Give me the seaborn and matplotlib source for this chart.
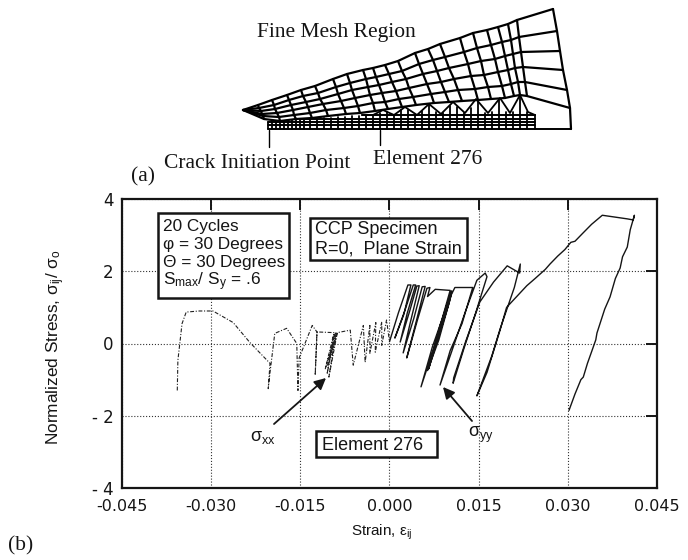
import pandas as pd
import matplotlib
matplotlib.use("Agg")
import matplotlib.pyplot as plt
import seaborn as sns

# Stress-strain curves
sxx_strain = [-.0357, -.0356, -.0349, -.0342, -.0320, -.0297, -.0263, -.0235, -.0201, -.0204, -.0201, -.0193, -.0173,
              -.0156, -.0154, -.0152, -.0130, -.0122, -.0125, -.0122, -.0092, -.0105, -.0094, -.0108, -.0090, -.0102,
              -.0088, -.0104, -.0088, -.0066, -.0061, -.0044, -.0041, -.0033, -.0033, -.0023, -.0024, -.0013, -.0013,
              -.0005, .0000]
sxx_stress = [-1.30, -.47, .55, .87, .90, .90, .58, .03, -.55, -1.25, -.80, .28, .42,
              .00, -1.30, -.40, .50, .32, -.88, .32, .30, -.85, .25, -.70, .32, -.93,
              .28, -.60, .30, .37, -.60, .50, -.52, .50, -.27, .58, -.24, .60, -.05,
              .65, .05]

syy_strain = [.0000, .0015, .0031, .0036, .0024, .0009, .0026, .0040, .0044, .0030, .0018, .0034, .0046, .0050, .0036,
              .0023, .0041, .0055, .0060, .0044, .0029, .0047, .0063, .0068, .0064, .0077, .0102, .0088, .0072, .0053,
              .0073, .0098, .0104, .0085, .0066, .0078, .0100, .0105, .0086, .0064, .0083, .0104, .0110, .0140, .0122,
              .0102, .0085, .0104, .0128, .0147, .0161, .0164, .0145, .0125, .0107, .0108, .0128, .0152, .0175, .0198,
              .0219, .0220, .0210, .0186, .0172, .0147, .0164, .0186, .0197, .0231, .0245, .0262, .0270, .0283, .0295,
              .0305, .0312, .0325, .0340, .0358, .0400, .0410, .0412, .0405, .0400, .0392, .0388, .0380, .0371, .0362,
              .0349, .0347, .0341, .0333, .0326, .0322, .0312, .0302]
syy_stress = [.05, .85, 1.62, 1.62, .80, .15, .92, 1.62, 1.62, .85, .04, .90, 1.59, 1.60, .65,
              -.26, .70, 1.57, 1.58, .55, -.40, .65, 1.53, 1.55, 1.30, 1.50, 1.47, .65, -.10, -1.20,
              -.20, 1.05, 1.45, .50, -.70, -.05, 1.10, 1.45, .45, -.75, .10, 1.35, 1.55, 1.55, .55,
              -.20, -1.15, -.25, .90, 1.75, 1.95, 1.85, .85, -.15, -1.10, -.95, .05, 1.15, 1.70, 2.15,
              1.95, 2.20, 1.55, .40, -.35, -1.45, -.80, .37, 1.00, 1.60, 1.80, 2.05, 2.20, 2.42, 2.60,
              2.80, 2.83, 3.05, 3.30, 3.55, 3.45, 3.42, 3.55, 3.15, 2.67, 2.40, 2.09, 1.80, 1.29, .95,
              .29, .10, -.18, -.55, -.93, -1.00, -1.40, -1.85]

x_ticks = [-.045, -.030, -.015, .000, .015, .030, .045]
x_tick_labels = ["-0.045", "-0.030", "-0.015", "0.000", "0.015", "0.030", "0.045"]
y_ticks = [-4, -2, 0, 2, 4]
y_tick_labels = ["- 4", "- 2", "0", "2", "4"]

# Finite element mesh nodes, page pixels, one list per row of the coarse region
mesh_x = [
    [243, 258, 272, 287, 301, 315, 333, 347, 363, 373, 385, 398, 415, 428, 440, 460, 473, 487, 498, 508, 517, 553],
    [243, 259, 274, 289, 303, 318, 336, 350, 366, 376, 389, 402, 419, 433, 445, 464, 477, 491, 502, 511, 519, 557],
    [243, 261, 275, 291, 306, 320, 338, 352, 368, 379, 392, 406, 423, 437, 449, 468, 481, 495, 505, 513, 521, 560],
    [243, 262, 277, 293, 308, 323, 341, 355, 370, 382, 396, 409, 427, 441, 454, 471, 484, 498, 508, 515, 523, 563],
    [243, 263, 279, 294, 310, 326, 344, 358, 373, 385, 399, 413, 431, 445, 458, 475, 488, 502, 511, 518, 525, 567],
    [243, 264, 280, 296, 312, 328, 346, 360, 375, 388, 402, 416, 434, 449, 462, 478, 491, 505, 514, 520, 527, 570],
]
mesh_y = [
    [110, 105, 100, 95, 90, 86, 79, 74, 70, 68, 65, 61, 53, 49, 44, 38, 33, 30, 27, 24, 20, 9],
    [110, 108, 105, 100, 96, 93, 87, 83, 79, 77, 74, 71, 64, 60, 57, 52, 48, 45, 42, 40, 37, 31],
    [110, 111, 109, 105, 102, 99, 94, 90, 87, 85, 82, 79, 74, 71, 68, 64, 61, 59, 56, 54, 52, 51],
    [110, 114, 113, 110, 107, 104, 101, 98, 95, 93, 91, 88, 84, 82, 79, 76, 75, 72, 70, 68, 67, 70],
    [110, 116, 117, 115, 113, 110, 108, 106, 103, 102, 99, 97, 94, 92, 90, 89, 87, 86, 84, 82, 82, 90],
    [110, 119, 121, 119, 118, 116, 114, 113, 111, 109, 107, 105, 103, 102, 101, 100, 99, 98, 96, 95, 96, 108],
]
fine_x = [268, 272, 276, 280, 284, 288, 292, 296, 300, 304, 310, 317, 324, 331, 338, 345, 352, 359, 366, 373, 380,
          387, 394, 401, 408, 415, 422, 429, 436, 443, 450, 457, 464, 471, 478, 485, 492, 499, 506, 513, 520, 527,
          535]
fine_top = [122, 122, 122, 122, 121, 121, 120, 120, 120, 120, 119, 119, 118, 118, 117, 117, 116, 116, 115, 115, 113,
            112, 115, 110, 110, 115, 111, 104, 112, 113, 106, 107, 113, 108, 100, 113, 112, 100, 112, 112, 96, 112,
            115]
fine_rows = [115, 119, 122, 125, 129]
fine_row_start = [362, 300, 268, 268, 268]
fine_row_end = [535, 535, 535, 535, 571]
cusp_x = [362, 373, 383, 394, 405, 417, 429, 441, 453, 465, 476, 488, 500, 510, 520, 528, 535]
cusp_y = [115, 115, 110, 115, 107, 115, 104, 114, 102, 113, 99, 113, 98, 113, 95, 112, 115]

sns.set_style("white")
plt.rcParams["font.family"] = ["Liberation Sans", "DejaVu Sans"]
plt.rcParams["mathtext.fontset"] = "custom"
plt.rcParams["mathtext.rm"] = "Liberation Sans"
plt.rcParams["mathtext.it"] = "Liberation Sans"
ink = "#151515"

fig = plt.figure(figsize=(6.88, 5.6), dpi=100)

# Main plot
ax = fig.add_axes([122 / 688, 1 - 488 / 560, 535 / 688, 289 / 560])
sxx = pd.DataFrame({"strain": sxx_strain, "stress": sxx_stress})
syy = pd.DataFrame({"strain": syy_strain, "stress": syy_stress})
sns.lineplot(data=sxx, x="strain", y="stress", sort=False, estimator=None, color="#222222", lw=0.8,
             linestyle=(0, (3.5, 1.5, 1, 1.5)), ax=ax)
sns.lineplot(data=syy, x="strain", y="stress", sort=False, estimator=None, color=ink, lw=1.0, ax=ax)
ax.set_xlim(-.045, .045)
ax.set_ylim(-4, 4)
ax.set_xticks(x_ticks)
ax.set_xticklabels(x_tick_labels, fontsize=11.5, family="DejaVu Sans", color=ink)
ax.set_yticks(y_ticks)
ax.set_yticklabels(y_tick_labels, fontsize=12, family="DejaVu Sans", color=ink)
ax.tick_params(direction="in", length=8, width=1.4, top=True, right=True, color=ink, pad=6)
ax.tick_params(axis="x", pad=8)
ax.grid(True, linestyle=":", linewidth=0.8, color="#333333")
for side in ax.spines.values():
    side.set_linewidth(1.6)
    side.set_color(ink)
ax.set_xlabel("Strain, ε$_{ij}$", fontsize=11, labelpad=6, x=0.486, color=ink)
ax.set_ylabel("Normalized Stress, σ$_{ij}$/ σ$_{o}$", fontsize=12.4, labelpad=18, y=0.488, color=ink)

# Page overlay in pixels, holds the mesh, the boxes and the notes
page = fig.add_axes([0, 0, 1, 1], facecolor="none")
page.set_xlim(0, 688)
page.set_ylim(560, 0)
page.axis("off")

for row_x, row_y in zip(mesh_x, mesh_y):
    sns.lineplot(x=row_x, y=row_y, sort=False, estimator=None, color="black", lw=1.6, ax=page)
for col in range(len(mesh_x[0])):
    sns.lineplot(x=[row[col] for row in mesh_x], y=[row[col] for row in mesh_y], sort=False, estimator=None,
                 color="black", lw=1.6, ax=page)
for x, top in zip(fine_x, fine_top):
    sns.lineplot(x=[x, x], y=[top, 129], sort=False, estimator=None, color="black", lw=1.3, ax=page)
for y, start, end in zip(fine_rows, fine_row_start, fine_row_end):
    sns.lineplot(x=[start, end], y=[y, y], sort=False, estimator=None, color="black", lw=1.4, ax=page)
sns.lineplot(x=cusp_x, y=cusp_y, sort=False, estimator=None, color="black", lw=1.3, ax=page)
sns.lineplot(x=[570, 571], y=[108, 129], sort=False, estimator=None, color="black", lw=1.6, ax=page)
sns.lineplot(x=[269, 269], y=[130, 147], sort=False, estimator=None, color="black", lw=1.0, ax=page)
sns.lineplot(x=[380, 380], y=[130, 145], sort=False, estimator=None, color="black", lw=1.0, ax=page)

serif = "Liberation Serif"
page.text(257, 37, "Fine Mesh Region", family=serif, fontsize=15.5, color=ink)
page.text(131, 181, "(a)", family=serif, fontsize=15.5, color=ink)
page.text(164, 168, "Crack Initiation Point", family=serif, fontsize=15.5, color=ink)
page.text(373, 164, "Element 276", family=serif, fontsize=15.5, color=ink)
page.text(8, 550, "(b)", family=serif, fontsize=15.5, color=ink)

box_kw = dict(facecolor="white", edgecolor=ink, linewidth=1.8)
page.add_patch(plt.Rectangle((158, 213), 131, 85, **box_kw))
page.add_patch(plt.Rectangle((310, 218), 157, 42, **box_kw))
page.add_patch(plt.Rectangle((316, 431), 121, 26, **box_kw))

notes = ["20 Cycles", "φ = 30 Degrees", "Θ = 30 Degrees", "S$_{max}$/ S$_{y}$ = .6"]
for y, note in zip([227, 245, 263, 282], notes):
    page.text(163, y, note, fontsize=12.4, va="center", color=ink)
page.text(315, 230, "CCP Specimen", fontsize=13, va="center", color=ink)
page.text(315, 249, "R=0,  Plane Strain", fontsize=13, va="center", color=ink)
page.text(322, 445, "Element 276", fontsize=13, va="center", color=ink)

page.text(250, 437, "σ$_{xx}$", fontsize=13, va="center", color=ink)
page.text(468, 435, "σ$_{yy}$", fontsize=13, va="center", color=ink)
arrow = dict(arrowstyle="-|>", color=ink, lw=1.3, mutation_scale=17, shrinkA=0, shrinkB=0)
page.annotate("", xy=(326, 378), xytext=(274, 424), arrowprops=arrow)
page.annotate("", xy=(443, 387), xytext=(472, 421), arrowprops=arrow)

fig.savefig("out.png", dpi=100)
